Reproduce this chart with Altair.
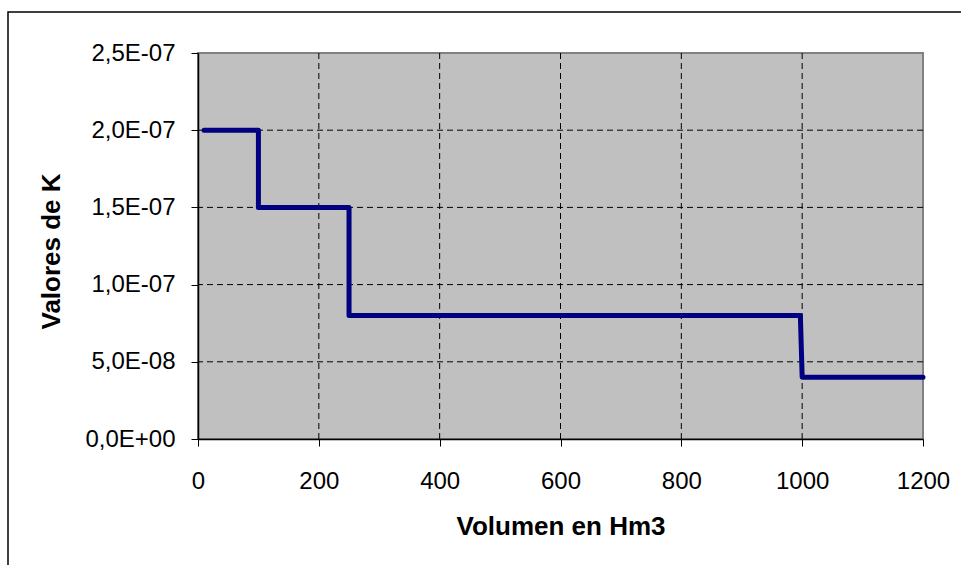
import altair as alt
import pandas as pd

# Data
vol = [10, 100, 100, 250, 250, 997, 1000, 1200]
k_vals = [2.0e-7, 2.0e-7, 1.5e-7, 1.5e-7, 8.0e-8, 8.0e-8, 4.0e-8, 4.0e-8]

x_ticks = [0, 200, 400, 600, 800, 1000, 1200]
y_ticks = [0.0, 5e-8, 1e-7, 1.5e-7, 2e-7, 2.5e-7]
y_tick_labels = ["0,0E+00", "5,0E-08", "1,0E-07", "1,5E-07", "2,0E-07", "2,5E-07"]

W, H = 725, 386

df = pd.DataFrame({"vol": vol, "k": k_vals, "order": list(range(len(vol)))})
grid_v = pd.DataFrame({"vol": x_ticks[1:-1]})
grid_h = pd.DataFrame({"k": y_ticks[1:-1]})
one = pd.DataFrame({"a": [0]})

expr = "''"
for v, lab in reversed(list(zip(y_ticks, y_tick_labels))):
    expr = f"(abs(datum.value - ({v!r})) < 1e-12 ? '{lab}' : {expr})"

x_scale = alt.Scale(domain=[0, 1200], nice=False, zero=False)
y_scale = alt.Scale(domain=[0, 2.5e-7], nice=False)

x_axis = alt.Axis(
    values=x_ticks, format="d", grid=False, labelFontSize=24,
    labelBaseline="alphabetic", labelPadding=42, labelFlush=False,
    labelOverlap=False, title="Volumen en Hm3", titleY=95,
    titleBaseline="alphabetic", titleFontSize=26,
)
y_axis = alt.Axis(
    values=y_ticks, labelExpr=expr, grid=False, labelFontSize=24,
    labelPadding=16, labelOverlap=False, title="Valores de K",
    titleX=-147, titleY=198, titleAngle=270, titleAlign="center",
    titleBaseline="middle", titleFontSize=26,
)

X = alt.X("vol:Q", scale=x_scale, axis=x_axis)
Y = alt.Y("k:Q", scale=y_scale, axis=y_axis)

border = alt.Chart(one).mark_rect(
    fillOpacity=0, stroke="black", strokeWidth=1.5
).encode(
    x=alt.value(-190), x2=alt.value(W + 80),
    y=alt.value(-41), y2=alt.value(H + 160),
)

vrules = alt.Chart(grid_v).mark_rule(
    color="black", strokeDash=[6, 4], strokeWidth=1
).encode(x=X)

hrules = alt.Chart(grid_h).mark_rule(
    color="black", strokeDash=[6, 4], strokeWidth=1
).encode(y=Y)

line = alt.Chart(df).mark_line(
    color="#000080", strokeWidth=5, strokeCap="round", strokeJoin="round"
).encode(x=X, y=Y, order="order:Q")

chart = alt.layer(border, vrules, hrules, line).properties(
    width=W, height=H,
    autosize=alt.AutoSizeParams(type="none"),
    padding={"left": 198, "top": 53, "right": 38, "bottom": 126},
    background="white",
).configure_view(
    fill="#C0C0C0", stroke="#808080", strokeWidth=2
).configure_axis(
    domainColor="black", domainWidth=1.5, tickColor="black", tickSize=7,
    tickWidth=1, labelColor="black", titleColor="black",
    labelFont="Liberation Sans", titleFont="Liberation Sans",
    titleFontWeight="bold",
)

chart.save("out.html", embed_options={"renderer": "svg", "actions": False})
